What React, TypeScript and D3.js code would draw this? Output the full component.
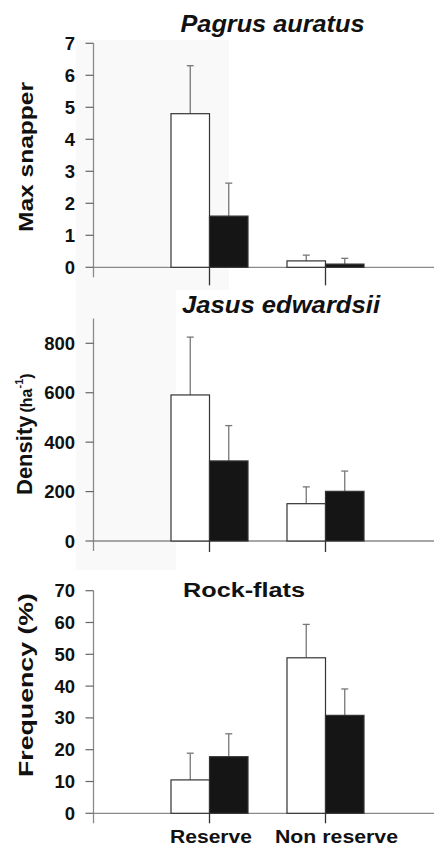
import React from "react";
import * as d3 from "d3";

// ---- data ----
const slots = ["", "Reserve", "Non reserve", " "];
const categories = ["Reserve", "Non reserve"];

const snapperOpen = [4.8, 0.2];
const snapperOpenTop = [6.3, 0.38];
const snapperFilled = [1.6, 0.1];
const snapperFilledTop = [2.63, 0.28];
const snapperTicks = [0, 1, 2, 3, 4, 5, 6, 7];

const lobsterOpen = [591, 151];
const lobsterOpenTop = [825, 219];
const lobsterFilled = [324, 201];
const lobsterFilledTop = [467, 283];
const lobsterTicks = [0, 200, 400, 600, 800];

const rockOpen = [10.5, 48.9];
const rockOpenTop = [18.9, 59.4];
const rockFilled = [17.8, 30.8];
const rockFilledTop = [25, 39.1];
const rockTicks = [0, 10, 20, 30, 40, 50, 60, 70];

const FONT = "'Liberation Sans', Arial, Helvetica, sans-serif";
const W = 434;
const H = 851;
const AXIS_X = 93.5;
const BAR_W = 38.5;

const x = d3.scalePoint<string>().domain(slots).range([AXIS_X, AXIS_X + 116 * 3]).padding(0);

type PanelProps = {
  open: number[];
  openTop: number[];
  filled: number[];
  filledTop: number[];
  ticks: number[];
  domainMax: number;
  y0: number;
  yTop: number;
  axisTop: number;
  catTickLen: number;
};

function Panel(p: PanelProps) {
  const y = d3.scaleLinear().domain([0, p.domainMax]).range([p.y0, p.yTop]);
  const base = y(0);
  const axisCol = "#8a8a8a";
  return (
    <g>
      {/* y axis */}
      <line x1={AXIS_X} x2={AXIS_X} y1={y(p.axisTop)} y2={base + 10} stroke={axisCol} strokeWidth={1.3} />
      {p.ticks.map((t) => (
        <g key={t}>
          <line x1={AXIS_X - 8} x2={AXIS_X} y1={y(t)} y2={y(t)} stroke="#666" strokeWidth={1.2} />
          <text x={75} y={y(t) + 6.5} textAnchor="end" fontFamily={FONT} fontWeight="bold" fontSize={18.5} fill="#111">
            {t}
          </text>
        </g>
      ))}
      {/* x axis */}
      <line x1={AXIS_X} x2={W} y1={base} y2={base} stroke={axisCol} strokeWidth={1.3} />
      {categories.map((c) => (
        <line key={c} x1={x(c)!} x2={x(c)!} y1={base} y2={base + p.catTickLen} stroke="#333" strokeWidth={1.3} />
      ))}
      {/* bars */}
      {categories.map((c, i) => {
        const cx = x(c)!;
        const ox = cx - BAR_W;
        const fx = cx;
        return (
          <g key={c}>
            <line x1={ox + BAR_W / 2} x2={ox + BAR_W / 2} y1={y(p.open[i])} y2={y(p.openTop[i])} stroke="#777" strokeWidth={1.3} />
            <line x1={ox + BAR_W / 2 - 3.5} x2={ox + BAR_W / 2 + 3.5} y1={y(p.openTop[i])} y2={y(p.openTop[i])} stroke="#777" strokeWidth={1.3} />
            <line x1={fx + BAR_W / 2} x2={fx + BAR_W / 2} y1={y(p.filled[i])} y2={y(p.filledTop[i])} stroke="#777" strokeWidth={1.3} />
            <line x1={fx + BAR_W / 2 - 3.5} x2={fx + BAR_W / 2 + 3.5} y1={y(p.filledTop[i])} y2={y(p.filledTop[i])} stroke="#777" strokeWidth={1.3} />
            <rect x={ox} y={y(p.open[i])} width={BAR_W} height={base - y(p.open[i])} fill="#fff" stroke="#333" strokeWidth={1.2} />
            <rect x={fx} y={y(p.filled[i])} width={BAR_W} height={base - y(p.filled[i])} fill="#151515" stroke="#333" strokeWidth={1.2} />
          </g>
        );
      })}
    </g>
  );
}

export default function App() {
  return (
    <svg width={W} height={H} style={{ position: "absolute", left: 0, top: 0, background: "#fff" }}>
      <rect x={76} y={40} width={153} height={250} fill="#f9f9f9" />
      <rect x={76} y={290} width={100} height={280} fill="#f9f9f9" />

      {/* titles */}
      <text x={272.5} y={32} textAnchor="middle" fontFamily={FONT} fontWeight="bold" fontStyle="italic" fontSize={23} textLength={184} lengthAdjust="spacingAndGlyphs" fill="#111">
        Pagrus auratus
      </text>
      <text x={281} y={313} textAnchor="middle" fontFamily={FONT} fontWeight="bold" fontStyle="italic" fontSize={23} textLength={198} lengthAdjust="spacingAndGlyphs" fill="#111">
        Jasus edwardsii
      </text>
      <text x={244} y={597} textAnchor="middle" fontFamily={FONT} fontWeight="bold" fontSize={20} textLength={122} lengthAdjust="spacingAndGlyphs" fill="#111">
        Rock-flats
      </text>

      {/* y labels */}
      <text transform="translate(33,157) rotate(-90)" textAnchor="middle" fontFamily={FONT} fontWeight="bold" fontSize={21} textLength={150} lengthAdjust="spacingAndGlyphs" fill="#111">
        Max snapper
      </text>
      <text transform="translate(32,495) rotate(-90)" textAnchor="start" fontFamily={FONT} fontWeight="bold" fill="#111">
        <tspan fontSize={22}>Density</tspan>
        <tspan fontSize={16} dx={3}>(ha</tspan>
        <tspan fontSize={11} dy={-9}>-1</tspan>
        <tspan fontSize={16} dy={9}>)</tspan>
      </text>
      <text transform="translate(33,685) rotate(-90)" textAnchor="middle" fontFamily={FONT} fontWeight="bold" fontSize={21} textLength={184} lengthAdjust="spacingAndGlyphs" fill="#111">
        Frequency (%)
      </text>

      <Panel open={snapperOpen} openTop={snapperOpenTop} filled={snapperFilled} filledTop={snapperFilledTop}
        ticks={snapperTicks} domainMax={7} y0={267.3} yTop={43.3} axisTop={7} catTickLen={18} />
      <Panel open={lobsterOpen} openTop={lobsterOpenTop} filled={lobsterFilled} filledTop={lobsterFilledTop}
        ticks={lobsterTicks} domainMax={800} y0={541} yTop={343.3} axisTop={900} catTickLen={11} />
      <Panel open={rockOpen} openTop={rockOpenTop} filled={rockFilled} filledTop={rockFilledTop}
        ticks={rockTicks} domainMax={70} y0={813.3} yTop={590.7} axisTop={70} catTickLen={10} />

      {/* x labels */}
      {categories.map((c, i) => (
        <text key={c} x={i === 0 ? 211 : 336.5} y={843} textAnchor="middle" fontFamily={FONT} fontWeight="bold" fontSize={19}
          textLength={i === 0 ? 82 : 123} lengthAdjust="spacingAndGlyphs" fill="#111">
          {c}
        </text>
      ))}
    </svg>
  );
}
